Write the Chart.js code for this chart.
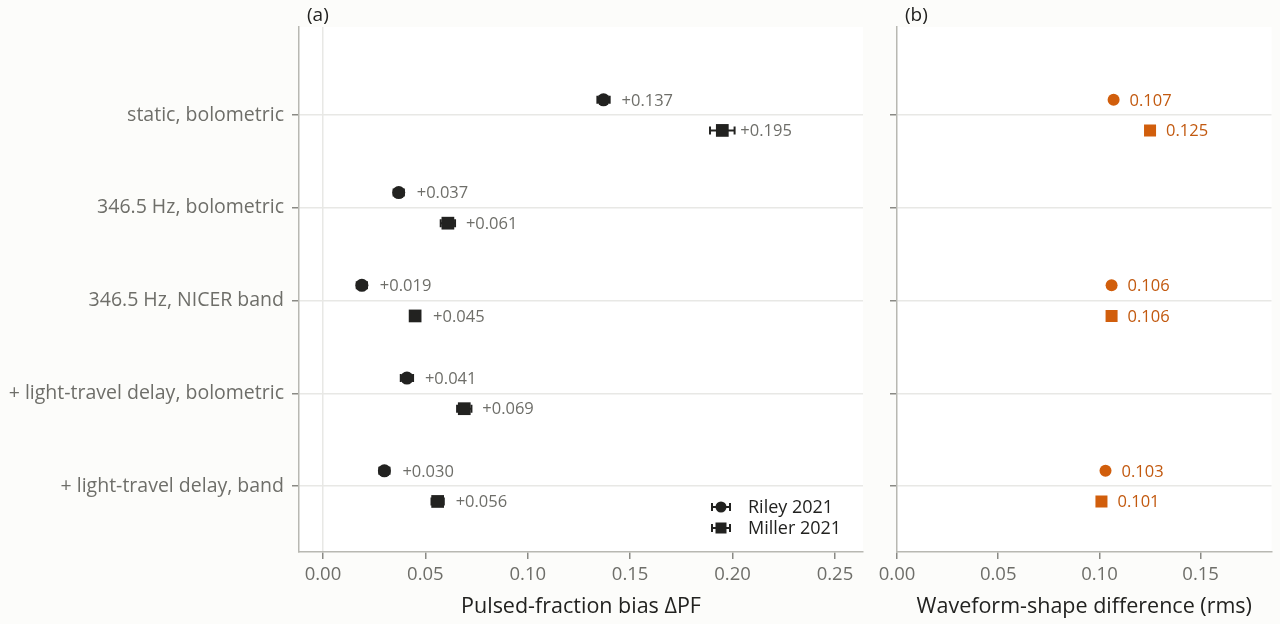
<!DOCTYPE html>
<html lang="en">
<head>
<meta charset="UTF-8" />
<title>Pulsed-fraction bias and waveform-shape difference</title>
<script src="https://cdn.jsdelivr.net/npm/chart.js"></script>
<style>
    html, body { margin: 0; padding: 0; background: #fcfcfa; }
    #wrap { position: relative; width: 1280px; height: 624px; overflow: hidden; }
    canvas { position: absolute; top: 0; }
</style>
</head>
<body>
<div id="wrap">
    <canvas id="chartA" width="880" height="624" style="left:0"></canvas>
    <canvas id="chartB" width="410" height="624" style="left:870px"></canvas>
</div>

<script>
    // --- data ---
    const categories = [
        "static, bolometric",
        "346.5 Hz, bolometric",
        "346.5 Hz, NICER band",
        "+ light-travel delay, bolometric",
        "+ light-travel delay, band"
    ];
    const seriesNames = ["Riley 2021", "Miller 2021"];

    // panel (a): pulsed-fraction bias
    const rileyBias = [0.137, 0.037, 0.019, 0.041, 0.030];
    const millerBias = [0.195, 0.061, 0.045, 0.069, 0.056];
    const rileyBiasErr = [0.003, 0.0025, 0.0025, 0.003, 0.0025];
    const millerBiasErr = [0.006, 0.0035, 0.002, 0.0035, 0.003];

    // panel (b): waveform-shape difference (null = not shown)
    const rileyShape = [0.107, null, 0.106, null, 0.103];
    const millerShape = [0.125, null, 0.106, null, 0.101];

    const xTicksA = [0, 0.05, 0.10, 0.15, 0.20, 0.25];
    const xTicksB = [0, 0.05, 0.10, 0.15];
    const yTicks = [0, 1, 2, 3, 4];

    const FONT = "'Open Sans', Lato, sans-serif";
    const DARK = "#222220";
    const ORANGE = "#d15e0c";
    const ORANGE_TEXT = "#c2590f";
    const TICK_GREY = "#6e6e69";
    const DODGE = 0.165;

    function toPoints(values, offset) {
        const pts = [];
        values.forEach((v, i) => {
            if (v !== null) pts.push({ x: v, y: i + offset });
        });
        return pts;
    }

    // white plot panel + title letter
    const panelBg = {
        id: "panelBg",
        beforeDraw(chart, args, opts) {
            const { ctx, chartArea: a } = chart;
            ctx.save();
            ctx.fillStyle = "#ffffff";
            ctx.fillRect(a.left, a.top, a.right - a.left, a.bottom - a.top);
            ctx.fillStyle = DARK;
            ctx.font = "19px " + FONT;
            ctx.textBaseline = "middle";
            ctx.fillText(opts.letter, a.left + 8, 16);
            ctx.restore();
        }
    };

    // horizontal error bars, drawn under the markers
    const errorBars = {
        id: "errorBars",
        beforeDatasetsDraw(chart) {
            const { ctx, scales: { x, y } } = chart;
            ctx.save();
            ctx.strokeStyle = DARK;
            ctx.lineWidth = 2;
            chart.data.datasets.forEach(ds => {
                if (!ds.errors) return;
                ds.data.forEach((p, i) => {
                    const e = ds.errors[i];
                    const x0 = x.getPixelForValue(p.x - e);
                    const x1 = x.getPixelForValue(p.x + e);
                    const py = y.getPixelForValue(p.y);
                    ctx.beginPath();
                    ctx.moveTo(x0, py); ctx.lineTo(x1, py);
                    ctx.moveTo(x0, py - 4); ctx.lineTo(x0, py + 4);
                    ctx.moveTo(x1, py - 4); ctx.lineTo(x1, py + 4);
                    ctx.stroke();
                });
            });
            ctx.restore();
        }
    };

    // value labels next to each marker
    const valueLabels = {
        id: "valueLabels",
        afterDatasetsDraw(chart, args, opts) {
            const { ctx, scales: { x, y } } = chart;
            ctx.save();
            ctx.font = "16.5px " + FONT;
            ctx.fillStyle = opts.color;
            ctx.textBaseline = "middle";
            chart.data.datasets.forEach(ds => {
                ds.data.forEach(p => {
                    const txt = opts.plus ? "+" + p.x.toFixed(3) : p.x.toFixed(3);
                    ctx.fillText(txt, x.getPixelForValue(p.x) + opts.gap, y.getPixelForValue(p.y) + 1);
                });
            });
            ctx.restore();
        }
    };

    // legend with error-bar glyphs, bottom right of panel (a)
    const errLegend = {
        id: "errLegend",
        afterDraw(chart) {
            const { ctx, chartArea: a } = chart;
            ctx.save();
            ctx.font = "18px " + FONT;
            ctx.textBaseline = "middle";
            chart.data.datasets.forEach((ds, i) => {
                const cx = a.right - 142;
                const cy = a.bottom - 45 + i * 21;
                ctx.strokeStyle = DARK;
                ctx.lineWidth = 2;
                ctx.beginPath();
                ctx.moveTo(cx - 9, cy); ctx.lineTo(cx + 9, cy);
                ctx.moveTo(cx - 9, cy - 4); ctx.lineTo(cx - 9, cy + 4);
                ctx.moveTo(cx + 9, cy - 4); ctx.lineTo(cx + 9, cy + 4);
                ctx.stroke();
                ctx.fillStyle = DARK;
                if (ds.pointStyle === "circle") {
                    ctx.beginPath(); ctx.arc(cx, cy, 5.5, 0, Math.PI * 2); ctx.fill();
                } else {
                    ctx.fillRect(cx - 5.5, cy - 5.5, 11, 11);
                }
                ctx.fillText(ds.label, cx + 27, cy + 1);
            });
            ctx.restore();
        }
    };

    function yScale(showLabels, width) {
        return {
            type: "linear",
            reverse: true,
            min: -0.95,
            max: 4.71,
            afterBuildTicks: s => { s.ticks = yTicks.map(v => ({ value: v })); },
            afterFit: s => { s.width = width; },
            border: { color: "#b8b8b2", width: 1.5 },
            grid: { color: "#e8e8e5", lineWidth: 1.5, tickColor: "#8a8a85", tickLength: 7 },
            ticks: {
                padding: 8,
                color: TICK_GREY,
                font: { family: FONT, size: 19.5 },
                callback: v => showLabels ? categories[v] : ""
            }
        };
    }

    function xScale(min, max, tickVals, title, zeroLine) {
        return {
            type: "linear",
            min: min,
            max: max,
            afterBuildTicks: s => { s.ticks = tickVals.map(v => ({ value: v })); },
            afterFit: s => { s.height = 72; },
            border: { color: "#b8b8b2", width: 1.5 },
            grid: {
                color: c => (zeroLine && c.tick && c.tick.value === 0) ? "#e8e8e5" : "rgba(0,0,0,0)",
                lineWidth: 1.5,
                tickColor: "#8a8a85",
                tickLength: 7
            },
            ticks: {
                autoSkip: false,
                maxRotation: 0,
                padding: 5,
                color: TICK_GREY,
                font: { family: FONT, size: 18.5 },
                callback: v => Number(v).toFixed(2)
            },
            title: {
                display: true,
                text: title,
                color: DARK,
                font: { family: FONT, size: 21.5 },
                padding: { top: 2, bottom: 4 }
            }
        };
    }

    new Chart(document.getElementById("chartA"), {
        type: "scatter",
        data: {
            datasets: [
                {
                    label: seriesNames[0],
                    data: toPoints(rileyBias, -DODGE),
                    errors: rileyBiasErr,
                    pointStyle: "circle",
                    pointRadius: 6.5,
                    backgroundColor: DARK,
                    borderColor: DARK,
                    borderWidth: 0
                },
                {
                    label: seriesNames[1],
                    data: toPoints(millerBias, DODGE),
                    errors: millerBiasErr,
                    pointStyle: "rect",
                    pointRadius: 9,
                    backgroundColor: DARK,
                    borderColor: DARK,
                    borderWidth: 0
                }
            ]
        },
        options: {
            responsive: false,
            animation: false,
            layout: { padding: { top: 27, right: 17, left: 0, bottom: 0 } },
            scales: {
                x: xScale(-0.0117, 0.2637, xTicksA, "Pulsed-fraction bias \u0394PF", true),
                y: yScale(true, 299)
            },
            plugins: {
                legend: { display: false },
                tooltip: { enabled: false },
                panelBg: { letter: "(a)" },
                valueLabels: { color: "#6e6e69", gap: 18, plus: true }
            }
        },
        plugins: [panelBg, errorBars, valueLabels, errLegend]
    });

    new Chart(document.getElementById("chartB"), {
        type: "scatter",
        data: {
            datasets: [
                {
                    label: seriesNames[0],
                    data: toPoints(rileyShape, -DODGE),
                    pointStyle: "circle",
                    pointRadius: 6,
                    backgroundColor: ORANGE,
                    borderWidth: 0
                },
                {
                    label: seriesNames[1],
                    data: toPoints(millerShape, DODGE),
                    pointStyle: "rect",
                    pointRadius: 8.5,
                    backgroundColor: ORANGE,
                    borderWidth: 0
                }
            ]
        },
        options: {
            responsive: false,
            animation: false,
            layout: { padding: { top: 27, right: 8, left: 0, bottom: 0 } },
            scales: {
                x: xScale(0, 0.185, xTicksB, "Waveform-shape difference (rms)", false),
                y: yScale(false, 27)
            },
            plugins: {
                legend: { display: false },
                tooltip: { enabled: false },
                panelBg: { letter: "(b)" },
                valueLabels: { color: ORANGE_TEXT, gap: 16, plus: false }
            }
        },
        plugins: [panelBg, valueLabels]
    });
</script>
</body>
</html>
